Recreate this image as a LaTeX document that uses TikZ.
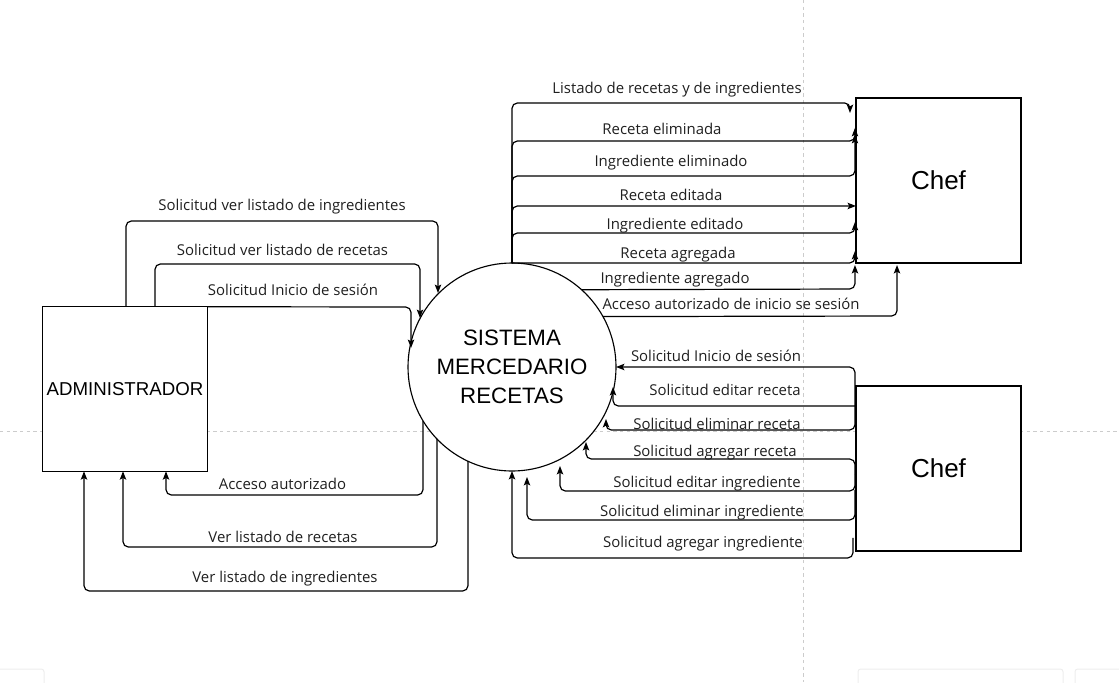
\documentclass[tikz,border=0pt]{standalone}
\usepackage{fontspec}
\setmainfont{Open Sans}
\newfontfamily\arialf{Liberation Sans}
\usetikzlibrary{arrows.meta,calc}
\begin{document}
\begin{tikzpicture}[x=0.75pt,y=-0.75pt,
  flow/.style={draw=black,line width=0.9pt,rounded corners=4pt,-{Stealth[length=6.3pt,width=4.8pt,inset=1.3pt]}},
  lbl/.style={font=\fontsize{11.2}{13}\selectfont,text=black!88,inner sep=0pt,yshift=-1.5pt},
  entity/.style={draw=black,line width=0.85pt,fill=white,minimum width=123.4pt,minimum height=123.4pt,inner sep=0pt,outer sep=0pt,font=\arialf\fontsize{14}{16}\selectfont},
  chefbox/.style={entity,minimum width=123.8pt,minimum height=123.8pt,font=\arialf\fontsize{19.5}{22}\selectfont},
  system/.style={circle,draw=black,line width=0.85pt,fill=white,minimum size=156pt,inner sep=0pt,outer sep=0pt,align=center,font=\arialf\fontsize{16.7}{21.75}\selectfont},
  pagebreak/.style={draw=black!20,line width=0.75pt,dash pattern=on 2.5pt off 2.5pt},
  uiedge/.style={draw=black!7,line width=0.75pt,rounded corners=2pt}]
\useasboundingbox (0,0) rectangle (1119,682);
% page break guides
\draw[pagebreak] (803,0) -- (803,682);
\draw[pagebreak] (0,431) -- (1119,431);
% faint toolbar edges
\draw[uiedge] (-2,669) -- (44,669) -- (44,684);
\draw[uiedge] (858,684) -- (858,669) -- (1063,669) -- (1063,684);
\draw[uiedge] (1075,684) -- (1075,669) -- (1121,669);

% nodes
\node[entity] (admin) at (125,389) {ADMINISTRADOR};
\node[chefbox] (chef1) at (938.5,180.5) {Chef};
\node[chefbox] (chef2) at (938.5,468.5) {Chef};
\node[system] (sys) at (512,367) {SISTEMA\\MERCEDARIO\\RECETAS};

% system -> chef (top)
\draw[flow] (sys.north) -- (512,103) -- (850,103) -- ($(chef1.north west)+(-6,15)$);
\draw[flow] (sys.north) -- (512,141) -- (855,141) -- ($(chef1.north west)+(-1,30)$);
\draw[flow] (sys.north) -- (512,176) -- (855,176) -- ($(chef1.north west)+(-1,37)$);
\draw[flow] (sys.north) -- (512,206) -- ($(chef1.north west)+(0,108)$);
\draw[flow] (sys.north) -- (512,233) -- (855,233) -- ($(chef1.north west)+(-1,124)$);
\draw[flow] (sys.north) -- (855,263) -- ($(chef1.north west)+(-1,153)$);
\draw[flow] (sys.48.6) -- (855,289) -- ($(chef1.south west)+(-1,2)$);
\draw[flow] (sys.29.4) -- (897,316) -- ($(chef1.south)+(-41.5,2)$);

% chef (bottom) -> system
\coordinate (s1) at ($(chef2.north west)+(-1,20)$);
\coordinate (s2) at ($(chef2.north west)+(-1,89)$);
\coordinate (s3) at ($(chef2.north west)+(-1,104)$);
\coordinate (s4) at ($(chef2.north west)+(-3,152)$);
\draw[flow] (s1) -- (855,367) -- (sys.east);
\draw[flow] (s1) -- (613,406) -- ($(sys.center)+(101,20)$);
\draw[flow] (s1) -- (855,430) -- (606,430) -- ($(sys.center)+(94,52)$);
\draw[flow] (s2) -- (855,459) -- (586,459) -- ($(sys.center)+(74,75)$);
\draw[flow] (s2) -- (855,491) -- (560,491) -- ($(sys.center)+(48,99)$);
\draw[flow] (s3) -- (855,520) -- (527,520) -- ($(sys.center)+(15,110)$);
\draw[flow] (s4) -- (853,558) -- (512,558) -- (sys.south);

% administrador <-> system
\draw[flow] ($(admin.north)+(1,0)$) -- (126,221) -- (438,221) -- ($(sys.center)+(-74,-74)$);
\draw[flow] ($(admin.north)+(30,0)$) -- (155,264) -- (420,264) -- ($(sys.center)+(-92,-49)$);
\draw[flow] (admin.north east) -- (411,307) -- ($(sys.center)+(-101,-19)$);
\draw[flow] ($(sys.center)+(-89,54)$) -- (423,495) -- (166,495) -- ($(admin.south)+(41,0)$);
\draw[flow] ($(sys.center)+(-75,72)$) -- (437,547) -- (123,547) -- ($(admin.south)+(-2,0)$);
\draw[flow] ($(sys.center)+(-44,94)$) -- (468,591) -- (84,591) -- ($(admin.south)+(-41,0)$);

% labels top right
\node[lbl] (t1) at (677,88) {Listado de recetas y de ingredientes};
\node[lbl] (t2) at (662,127) {Receta eliminada};
\node[lbl] (t3) at (671,161) {Ingrediente eliminado};
\node[lbl] (t4) at (671,193) {Receta editada};
\node[lbl] (t5) at (675,224) {Ingrediente editado};
\node[lbl] (t6) at (678,253) {Receta agregada};
\node[lbl] (t7) at (675,278) {Ingrediente agregado};
\node[lbl] (t8) at (731,302) {Acceso autorizado de inicio se sesión};
% labels bottom right
\node[lbl] (b1) at (716,354) {Solicitud Inicio de sesión};
\node[lbl] (b2) at (725,388) {Solicitud editar receta};
\node[lbl] (b3) at (717,422) {Solicitud eliminar receta};
\node[lbl] (b4) at (715,451) {Solicitud agregar receta};
\node[lbl] (b5) at (707,482) {Solicitud editar ingrediente};
\node[lbl] (b6) at (702,511) {Solicitud eliminar ingrediente};
\node[lbl] (b7) at (703,542) {Solicitud agregar ingrediente};
% labels left
\node[lbl] (a1) at (282,205) {Solicitud ver listado de ingredientes};
\node[lbl] (a2) at (282.5,248) {Solicitud ver listado de recetas};
\node[lbl] (a3) at (293,288) {Solicitud Inicio de sesión};
\node[lbl] (a4) at (282.5,482) {Acceso autorizado};
\node[lbl] (a5) at (283,535) {Ver listado de recetas};
\node[lbl] (a6) at (285,577) {Ver listado de ingredientes};
\end{tikzpicture}
\end{document}
